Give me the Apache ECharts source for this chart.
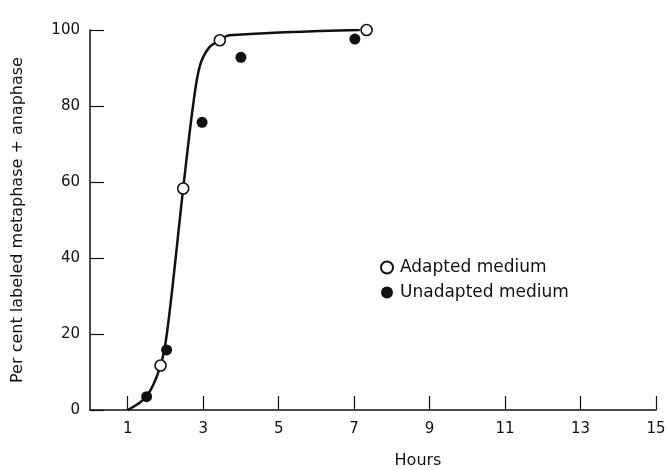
<!DOCTYPE html>
<html>
<head>
<meta charset="utf-8">
<script src="https://cdn.jsdelivr.net/npm/echarts@6/dist/echarts.min.js"></script>
<style>
  html, body { margin: 0; padding: 0; background: #fff; }
  #chart { width: 668px; height: 470px; }
</style>
</head>
<body>
<div id="chart"></div>
<script>
// values (hours, per cent)
var adapted = [[1.87, 11.7], [2.47, 58.3], [3.44, 97.3], [7.33, 100]];
var unadapted = [[1.5, 3.5], [2.03, 15.8], [2.97, 75.7], [4.0, 92.8], [7.02, 97.6]];
var curve = [[1.0, 0], [1.5, 3.6], [1.87, 11.7], [2.05, 21], [2.47, 58.3], [2.73, 80], [2.91, 90.5], [3.15, 95.3], [3.44, 97.3], [3.7, 98.6], [7.15, 100]];
var xTicks = [1, 3, 5, 7, 9, 11, 13, 15];
var yTicks = [0, 20, 40, 60, 80, 100];

var chart = echarts.init(document.getElementById('chart'));
var font = 'DejaVu Sans';

var option = {
  backgroundColor: '#fff',
  animation: false,
  grid: { left: 90, right: 12, top: 30, bottom: 60, outerBoundsMode: 'none' },
  legend: {
    data: ['Adapted medium', 'Unadapted medium'],
    orient: 'vertical',
    left: 375,
    top: 254,
    itemWidth: 12,
    itemHeight: 12,
    itemGap: 8,
    textStyle: { fontFamily: font, fontSize: 17, color: '#111', padding: [0, 0, 0, 2] }
  },
  xAxis: {
    type: 'value',
    min: 0,
    max: 15,
    name: 'Hours',
    nameLocation: 'middle',
    nameGap: 43,
    nameTextStyle: { fontFamily: font, fontSize: 16, color: '#111', padding: [0, 0, 0, 90] },
    axisLine: { lineStyle: { color: '#111', width: 1.5 } },
    axisTick: { inside: true, length: 14, lineStyle: { color: '#111', width: 1.2 }, customValues: xTicks },
    axisLabel: { fontFamily: font, fontSize: 15, color: '#111', margin: 12, customValues: xTicks },
    splitLine: { show: false }
  },
  yAxis: {
    type: 'value',
    min: 0,
    max: 100,
    name: 'Per cent labeled metaphase + anaphase',
    nameLocation: 'middle',
    nameGap: 64,
    nameTextStyle: { fontFamily: font, fontSize: 16, color: '#111' },
    axisLine: { show: true, lineStyle: { color: '#111', width: 1.5 } },
    axisTick: { inside: true, length: 14, lineStyle: { color: '#111', width: 1.2 }, customValues: yTicks },
    axisLabel: { fontFamily: font, fontSize: 15, color: '#111', margin: 10, customValues: yTicks },
    splitLine: { show: false }
  },
  series: [
    {
      name: 'fit',
      type: 'line',
      data: curve,
      smooth: 0.35,
      showSymbol: false,
      lineStyle: { color: '#111', width: 2.5 },
      z: 1
    },
    {
      name: 'Adapted medium',
      type: 'scatter',
      data: adapted,
      symbol: 'circle',
      symbolSize: 11,
      itemStyle: { color: '#fff', borderColor: '#111', borderWidth: 1.6, opacity: 1 },
      z: 3
    },
    {
      name: 'Unadapted medium',
      type: 'scatter',
      data: unadapted,
      symbol: 'circle',
      symbolSize: 11,
      itemStyle: { color: '#111', opacity: 1 },
      z: 3
    }
  ]
};

chart.setOption(option);
</script>
</body>
</html>
